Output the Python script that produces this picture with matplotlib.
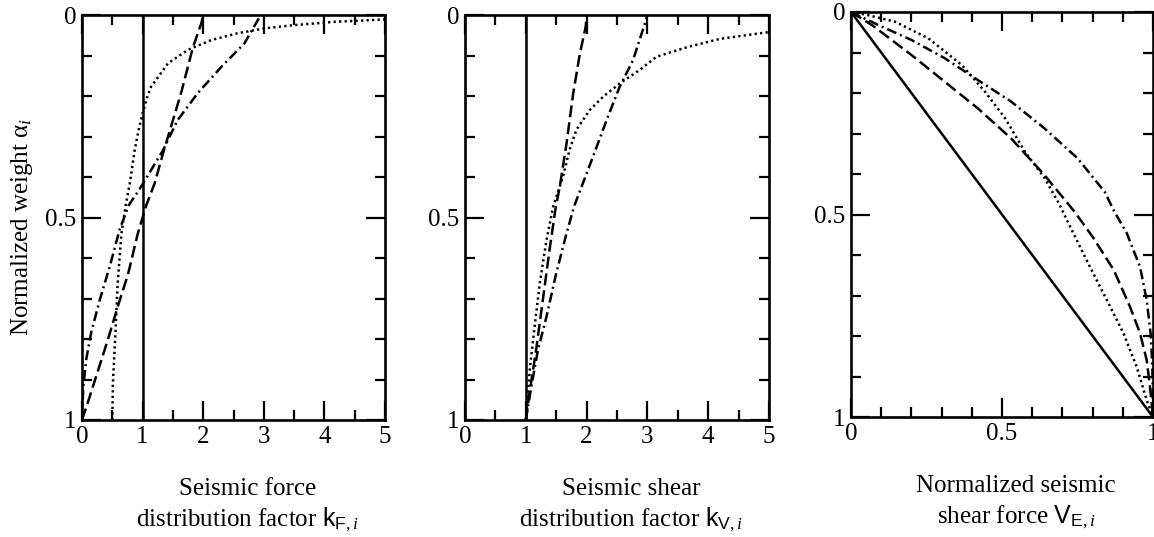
import matplotlib
matplotlib.use("Agg")
import matplotlib.pyplot as plt
from matplotlib.ticker import MultipleLocator, FixedLocator

plt.rcParams["font.family"] = ["Liberation Serif", "DejaVu Serif"]
plt.rcParams["mathtext.fontset"] = "custom"
plt.rcParams["mathtext.rm"] = "Liberation Serif"
plt.rcParams["mathtext.it"] = "Liberation Serif:italic"
plt.rcParams["mathtext.sf"] = "Liberation Sans"

# --- panel 1: seismic force distribution factor kF vs normalized weight ---
kf_solid_x = [1.0, 1.0]
kf_solid_y = [0.0, 1.0]
kf_dash_x = [0.0, 0.10, 0.26, 0.43, 0.59, 0.76, 0.92, 1.06, 1.20, 1.34, 1.47, 1.64, 1.83, 1.97, 2.0]
kf_dash_y = [1.0, 0.955, 0.88, 0.80, 0.72, 0.64, 0.54, 0.47, 0.415, 0.34, 0.275, 0.19, 0.08, 0.02, 0.0]
kf_dashdot_x = [0.0, 0.02, 0.07, 0.15, 0.29, 0.46, 0.62, 0.77, 0.95, 1.14, 1.34, 1.58, 1.91, 2.30, 2.68, 2.95]
kf_dashdot_y = [1.0, 0.92, 0.85, 0.785, 0.705, 0.62, 0.53, 0.47, 0.43, 0.383, 0.333, 0.259, 0.193, 0.128, 0.07, 0.0]
kf_dot_x = [0.50, 0.51, 0.55, 0.59, 0.65, 0.72, 0.79, 0.87, 0.94, 1.00, 1.07, 1.14, 1.42, 1.75, 2.13, 2.57, 3.01, 3.5, 4.15, 5.0]
kf_dot_y = [1.00, 0.91, 0.79, 0.66, 0.54, 0.47, 0.415, 0.333, 0.28, 0.243, 0.205, 0.177, 0.119, 0.086, 0.062, 0.045, 0.033, 0.025, 0.017, 0.011]

# --- panel 2: seismic shear distribution factor kV ---
kv_solid_x = [1.0, 1.0]
kv_solid_y = [0.0, 1.0]
kv_dash_x = [1.0, 1.06, 1.17, 1.28, 1.39, 1.49, 1.56, 1.67, 1.78, 1.89, 1.985, 2.0]
kv_dash_y = [1.0, 0.934, 0.827, 0.704, 0.58, 0.477, 0.423, 0.317, 0.193, 0.095, 0.029, 0.0]
kv_dashdot_x = [1.0, 1.09, 1.20, 1.34, 1.50, 1.67, 1.80, 1.94, 2.105, 2.33, 2.545, 2.765, 2.96, 3.0]
kv_dashdot_y = [1.0, 0.918, 0.827, 0.745, 0.638, 0.539, 0.47, 0.415, 0.35, 0.259, 0.177, 0.111, 0.02, 0.0]
kv_dot_x = [1.0, 1.07, 1.145, 1.23, 1.34, 1.45, 1.50, 1.61, 1.72, 1.83, 2.05, 2.27, 2.545, 2.87, 3.15, 3.64, 4.19, 5.0]
kv_dot_y = [1.0, 0.868, 0.77, 0.662, 0.556, 0.473, 0.45, 0.40, 0.333, 0.284, 0.235, 0.202, 0.169, 0.136, 0.103, 0.08, 0.059, 0.042]

# --- panel 3: normalized seismic shear force VE ---
ve_solid_x = [0.0, 1.0]
ve_solid_y = [0.0, 1.0]
ve_dash_x = [0.0, 0.069, 0.20, 0.31, 0.42, 0.53, 0.64, 0.74, 0.80, 0.87, 0.924, 0.957, 0.979, 0.99, 1.0]
ve_dash_y = [0.0, 0.032, 0.106, 0.172, 0.238, 0.312, 0.402, 0.493, 0.555, 0.637, 0.728, 0.793, 0.859, 0.925, 1.0]
ve_dashdot_x = [0.0, 0.09, 0.20, 0.31, 0.42, 0.53, 0.64, 0.75, 0.84, 0.87, 0.913, 0.957, 0.979, 0.992, 0.998, 1.0]
ve_dashdot_y = [0.0, 0.032, 0.069, 0.114, 0.168, 0.221, 0.287, 0.361, 0.444, 0.49, 0.546, 0.629, 0.711, 0.793, 0.876, 1.0]
ve_dot_x = [0.0, 0.046, 0.146, 0.256, 0.367, 0.444, 0.51, 0.576, 0.642, 0.69, 0.736, 0.791, 0.847, 0.902, 0.946, 0.979, 1.0]
ve_dot_y = [0.0, 0.006, 0.024, 0.065, 0.131, 0.197, 0.262, 0.345, 0.411, 0.475, 0.546, 0.629, 0.711, 0.793, 0.876, 0.958, 1.0]

y_ticks = [0, 0.5, 1]
y_ticklabels = ["0", "0.5", "1"]

LW = 1.8
STYLES = {
    "solid": "-",
    "dash": (0, (4.8, 2.0)),
    "dashdot": (0, (4.0, 1.6, 0.8, 1.6)),
    "dot": (0, (0.9, 1.3)),
}
FS = 18


def setup_axes(ax, xmax, xmajor, xminor, xticklabels):
    ax.set_xlim(0, xmax)
    ax.set_ylim(1, 0)
    ax.xaxis.set_major_locator(FixedLocator(xmajor))
    ax.set_xticklabels(xticklabels)
    ax.xaxis.set_minor_locator(MultipleLocator(xminor))
    ax.set_yticks(y_ticks)
    ax.set_yticklabels(y_ticklabels)
    ax.yaxis.set_minor_locator(MultipleLocator(0.1))
    ax.tick_params(which="both", direction="in", top=True, right=True, width=1.6,
                   labelsize=FS, pad=4)
    ax.tick_params(which="major", length=14)
    ax.tick_params(which="minor", length=7)
    for sp in ax.spines.values():
        sp.set_linewidth(1.9)


def draw(ax, series):
    for (xs, ys), key in series:
        ax.plot(xs, ys, color="black", lw=LW, linestyle=STYLES[key], solid_capstyle="butt")


fig = plt.figure(figsize=(11.54, 5.37), dpi=100)
fig.patch.set_facecolor("white")

ax1 = fig.add_axes([82 / 1154, 117 / 537, 303 / 1154, 405 / 537])
ax2 = fig.add_axes([465 / 1154, 117 / 537, 304 / 1154, 405 / 537])
ax3 = fig.add_axes([851 / 1154, 120 / 537, 302 / 1154, 405 / 537])

draw(ax1, [((kf_solid_x, kf_solid_y), "solid"), ((kf_dash_x, kf_dash_y), "dash"),
           ((kf_dashdot_x, kf_dashdot_y), "dashdot"), ((kf_dot_x, kf_dot_y), "dot")])
draw(ax2, [((kv_solid_x, kv_solid_y), "solid"), ((kv_dash_x, kv_dash_y), "dash"),
           ((kv_dashdot_x, kv_dashdot_y), "dashdot"), ((kv_dot_x, kv_dot_y), "dot")])
draw(ax3, [((ve_solid_x, ve_solid_y), "solid"), ((ve_dash_x, ve_dash_y), "dash"),
           ((ve_dashdot_x, ve_dashdot_y), "dashdot"), ((ve_dot_x, ve_dot_y), "dot")])

int_ticks = [0, 1, 2, 3, 4, 5]
setup_axes(ax1, 5, int_ticks, 0.5, [str(t) for t in int_ticks])
setup_axes(ax2, 5, int_ticks, 0.5, [str(t) for t in int_ticks])
setup_axes(ax3, 1, [0, 0.5, 1], 0.1, ["0", "0.5", "1"])

ax1.text(-0.198, 0.477, r"Normalized weight $\mathrm{\alpha}_{\mathit{i}}$", transform=ax1.transAxes,
         rotation=90, ha="center", va="center", fontsize=FS)

xlabels = [
    "Seismic force\ndistribution factor $\\mathsf{k}_{\\mathsf{F},\\mathit{i}}$",
    "Seismic shear\ndistribution factor $\\mathsf{k}_{\\mathsf{V},\\mathit{i}}$",
    "Normalized seismic\nshear force $\\mathsf{V}_{\\mathsf{E},\\mathit{i}}$",
]
for ax, lab in zip([ax1, ax2, ax3], xlabels):
    ax.text(0.546, -0.212, lab, transform=ax.transAxes, ha="center", va="center",
            fontsize=FS, linespacing=1.3, multialignment="center")

fig.savefig("out.png", dpi=100, facecolor="white")
